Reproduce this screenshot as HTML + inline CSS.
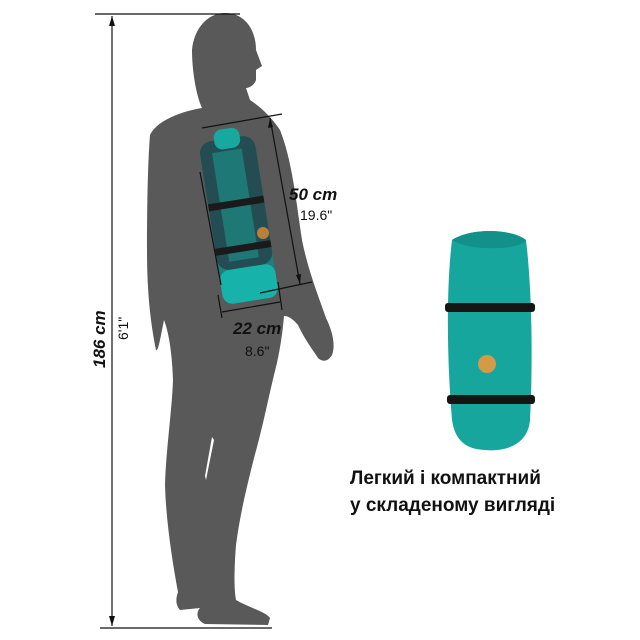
<!DOCTYPE html>
<html><head><meta charset="utf-8"><style>
html,body{margin:0;padding:0;background:#fff;width:640px;height:640px;overflow:hidden}
svg{display:block}
</style></head><body>
<svg width="640" height="640" viewBox="0 0 640 640" xmlns="http://www.w3.org/2000/svg">
<!-- silhouette -->
<path fill="#595959" d="M225 13 C245 13 256 30 256 50 L262 66 L256 70 L256 80 C254 86 248 88 246 88 L250 100 C262 108 272 118 280 130 C292 160 296 200 302 240 C308 270 318 295 326 318 C332 330 336 345 332 355 C328 362 322 362 318 358 C313 350 305 340 298 325 C292 318 288 316 284 316 C282 340 278 360 274 375 C268 400 262 430 254 458 C246 490 240 515 236 545 C234 570 234 590 236 600 C250 608 266 612 270 618 L268 625 L205 624 C196 620 196 612 200 608 L180 610 C175 604 176 598 178 592 C172 560 166 520 165 485 C166 450 172 410 173 380 C172 350 168 330 164 320 C160 340 158 352 156 350 C150 320 147 290 147 250 C147 200 148 160 150 135 C156 122 178 112 202 108 C196 95 192 70 192 50 C194 28 208 13 225 13 Z"/>
<path fill="#fff" d="M212 437 L214 440 L206 480 L205 476 Z"/>
<!-- bag -->
<g transform="rotate(-9 237 215)">
<rect x="210" y="138" width="56" height="162" rx="12" fill="#1f7e7c"/>
<rect x="210" y="138" width="56" height="130" rx="12" fill="#234d52"/>
<rect x="222" y="150" width="30" height="110" fill="#1d8a86" opacity="0.7"/>
<rect x="210" y="268" width="56" height="34" rx="10" fill="#17b3ab"/>
<rect x="210" y="200" width="56" height="7" fill="#1a1a1a"/>
<rect x="210" y="245" width="56" height="7" fill="#1a1a1a"/>
<rect x="226" y="128" width="26" height="20" rx="8" fill="#17a8a0"/>
</g>
<circle cx="263" cy="233" r="6" fill="#b8803a"/>
<!-- dimension lines -->
<g stroke="#111" stroke-width="1.2" fill="none">
<line x1="95" y1="14" x2="240" y2="14"/>
<line x1="100" y1="628" x2="272" y2="628"/>
<line x1="112" y1="16" x2="112" y2="626"/>
<line x1="202" y1="128" x2="282" y2="114"/>
<line x1="200" y1="172" x2="221" y2="285"/>
<line x1="260" y1="293" x2="312" y2="282"/>
<line x1="270" y1="118" x2="300" y2="284"/>
<line x1="218" y1="295" x2="222" y2="318"/>
<line x1="278" y1="282" x2="282" y2="310"/>
<line x1="222" y1="312" x2="280" y2="302"/>
</g>
<g fill="#111">
<path d="M112 16 l-3 10 h6z"/><path d="M112 626 l-3 -10 h6z"/>
<path d="M270 118 l-2 10 l5 -1z"/><path d="M300 284 l-4 -9 l5 -1z"/>
</g>
<!-- roll -->
<path fill="#17a69e" d="M452 240 C470 228 510 228 526 240 C532 290 533 360 530 420 C528 445 505 452 485 450 C465 449 455 440 452 420 C447 360 446 290 452 240 Z"/>
<path fill="#12918a" d="M452 240 C470 228 510 228 526 240 C522 250 470 252 452 240 Z"/>
<rect x="445" y="303" width="90" height="9" rx="3" fill="#151515"/>
<rect x="447" y="395" width="88" height="9" rx="3" fill="#151515"/>
<circle cx="487" cy="364" r="9" fill="#d49a45"/>
<!-- texts -->
<g font-family="'Liberation Sans', sans-serif" fill="#111">
<text x="0" y="0" transform="translate(105 368) rotate(-90)" font-size="17" font-weight="bold" font-style="italic">186 cm</text>
<text x="0" y="0" transform="translate(128 340) rotate(-90)" font-size="14">6'1"</text>
<text x="289" y="200" font-size="17" font-weight="bold" font-style="italic">50 cm</text>
<text x="300" y="220" font-size="14">19.6"</text>
<text x="233" y="334" font-size="17" font-weight="bold" font-style="italic">22 cm</text>
<text x="245" y="356" font-size="14">8.6"</text>
<text x="350" y="484" font-size="19" font-weight="bold">Легкий і компактний</text>
<text x="350" y="511" font-size="19" font-weight="bold">у складеному вигляді</text>
</g>
</svg>
</body></html>
